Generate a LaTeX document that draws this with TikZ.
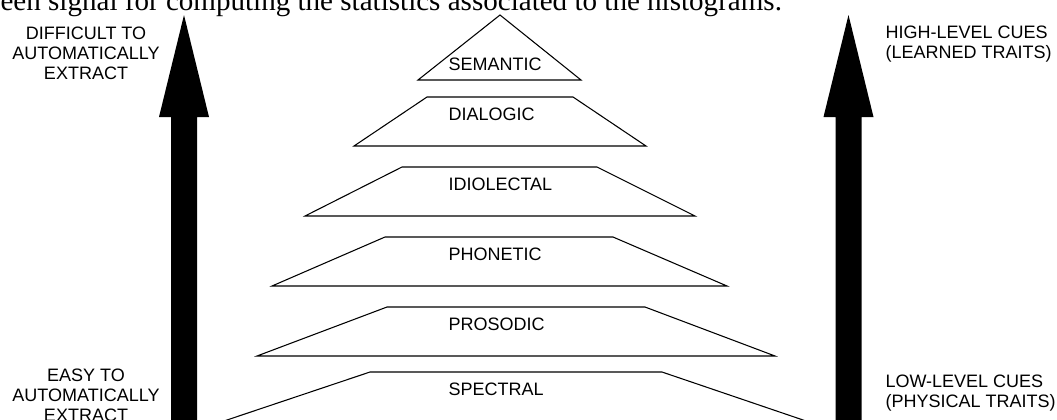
\documentclass[tikz,border=0pt]{standalone}
\usepackage{fontspec}
\setmainfont{Liberation Serif}
\newfontfamily\cuefont{Liberation Sans}
\usetikzlibrary{positioning}

\begin{document}
\begin{tikzpicture}[x=0.75pt, y=-0.75pt, line width=0.8pt,
  cue/.style={font=\cuefont\fontsize{13.5}{15}\selectfont, inner sep=0pt},
  layer/.style={draw, line join=miter}]
  \useasboundingbox (0,0) rectangle (1057,419);
  \clip (0,0) rectangle (1057,419);

  % caption line of the page, cut by the crop
  \node[anchor=base west, inner sep=0pt, font=\fontsize{21.8}{24}\selectfont] (caption) at (0,10)
    {een signal for computing the statistics associated to the histograms.};

  % block arrows
  \foreach \cx in {184,848.5}
    \fill ({\cx-13},430) -- ({\cx-13},117) -- ({\cx-25},117) -- (\cx,15)
      -- ({\cx+25},117) -- ({\cx+13},117) -- ({\cx+13},430) -- cycle;

  % pyramid
  \draw[layer] (418,80) -- (500,15) -- (581,80) -- cycle;
  \node[cue, anchor=west] (SEMANTIC) at (448,64) {SEMANTIC};
  \foreach \ty/\tl/\tr/\bl/\br/\name in {97/427/573/354/646/DIALOGIC,
      167/402/597/305/695/IDIOLECTAL, 237/385/613/272/727/PHONETIC,
      307/387/645/257/775/PROSODIC, 372/370/662/224/806/SPECTRAL}{
    \draw[layer] (\bl,{\ty+49}) -- (\tl,\ty) -- (\tr,\ty) -- (\br,{\ty+49}) -- cycle;
    \node[cue, anchor=west] (\name) at (448,{\ty+17}) {\name};
  }

  % side texts
  \node[cue, align=center] (hardtxt) at (86,53) {DIFFICULT TO\\AUTOMATICALLY\\EXTRACT};
  \node[cue, align=center] (easytxt) at (86,395) {EASY TO\\AUTOMATICALLY\\EXTRACT};
  \node[cue, align=left, anchor=west] (hightxt) at (885,44) {HIGH-LEVEL CUES\\(LEARNED TRAITS)};
  \node[cue, align=left, anchor=west] (lowtxt) at (885,393) {LOW-LEVEL CUES\\(PHYSICAL TRAITS)};
\end{tikzpicture}
\end{document}
